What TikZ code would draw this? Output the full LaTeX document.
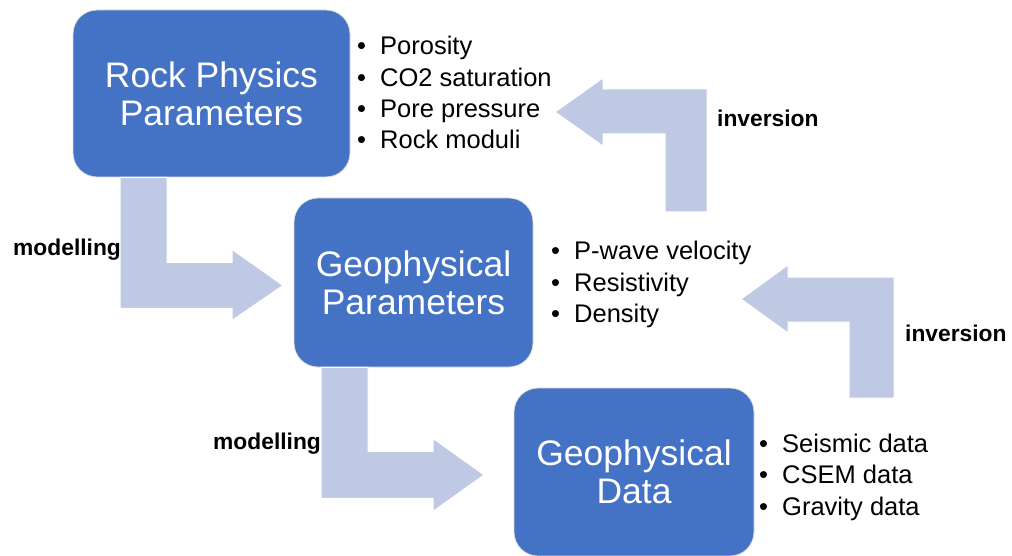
\documentclass[tikz,border=0pt]{standalone}
\usepackage{fontspec}
\setmainfont{Liberation Sans}
\usetikzlibrary{calc}
\definecolor{boxblue}{RGB}{68,114,196}
\definecolor{arrowblue}{RGB}{191,201,228}
\newcommand\itembullet[1]{\makebox[23pt][l]{\textbullet}#1}
\tikzset{
  stage/.style={draw=gray!25, line width=0.8pt, fill=boxblue, rounded corners=24pt,
    text=white, font=\fontsize{35.5}{38}\selectfont, align=center, inner sep=0pt},
  bigarrow/.style={fill=arrowblue, draw=white, line width=1pt, line join=miter},
  listline/.style={anchor=base west, font=\fontsize{25.5}{30}\selectfont, inner sep=0pt},
  steplabel/.style={anchor=base west, font=\fontsize{22.8}{27}\selectfont\bfseries, inner sep=0pt}
}
\begin{document}
\begin{tikzpicture}[x=1pt,y=-1pt]
\useasboundingbox (0,0) rectangle (1012,556);

% the three stages
\node[stage, minimum width=277pt, minimum height=167pt] (rock) at (211.5,93.5)
  {Rock Physics\\Parameters};
\node[stage, minimum width=239pt, minimum height=169pt] (geop) at (413.5,282.5)
  {Geophysical\\Parameters};
\node[stage, minimum width=240pt, minimum height=168pt] (geod) at (634,472)
  {Geophysical\\Data};

% forward modelling arrows, bent down and to the right
\path[bigarrow] ($(rock.south)+(-91.5,0)$) -- ++(47,0) -- ++(0,85) -- ++(65,0)
  -- ++(0,-13) -- ++(51,36) -- ++(-51,35) -- ++(0,-12) -- ++(-112,0) -- cycle;
\path[bigarrow] ($(geop.south)+(-92.5,0)$) -- ++(47,0) -- ++(0,84) -- ++(65,0)
  -- ++(0,-13) -- ++(51,36.5) -- ++(-51,36.5) -- ++(0,-13) -- ++(-112,0) -- cycle;

% inversion arrows, bent up and to the left
\path[bigarrow] (707,212) -- (707,89) -- (603,89) -- (603,78) -- (555,112)
  -- (603,146) -- (603,134) -- (665,134) -- (665,212) -- cycle;
\path[bigarrow] (894,398) -- (894,277) -- (788,277) -- (788,265) -- (741,299)
  -- (788,333) -- (788,322) -- (849,322) -- (849,398) -- cycle;

% parameter lists
\node[listline] (r1) at (357,55)  {\itembullet{Porosity}};
\node[listline] (r2) at (357,86.1)  {\itembullet{CO2 saturation}};
\node[listline] (r3) at (357,117.2) {\itembullet{Pore pressure}};
\node[listline] (r4) at (357,148.3) {\itembullet{Rock moduli}};

\node[listline] (p1) at (551,259.5) {\itembullet{P-wave velocity}};
\node[listline] (p2) at (551,291) {\itembullet{Resistivity}};
\node[listline] (p3) at (551,322.5) {\itembullet{Density}};

\node[listline] (d1) at (759,452) {\itembullet{Seismic data}};
\node[listline] (d2) at (759,483.5) {\itembullet{CSEM data}};
\node[listline] (d3) at (759,515) {\itembullet{Gravity data}};

% arrow labels
\node[steplabel] (m1) at (13,255) {modelling};
\node[steplabel] (m2) at (213,449) {modelling};
\node[steplabel] (i1) at (717,126.7) {inversion};
\node[steplabel] (i2) at (905,341) {inversion};
\end{tikzpicture}
\end{document}
